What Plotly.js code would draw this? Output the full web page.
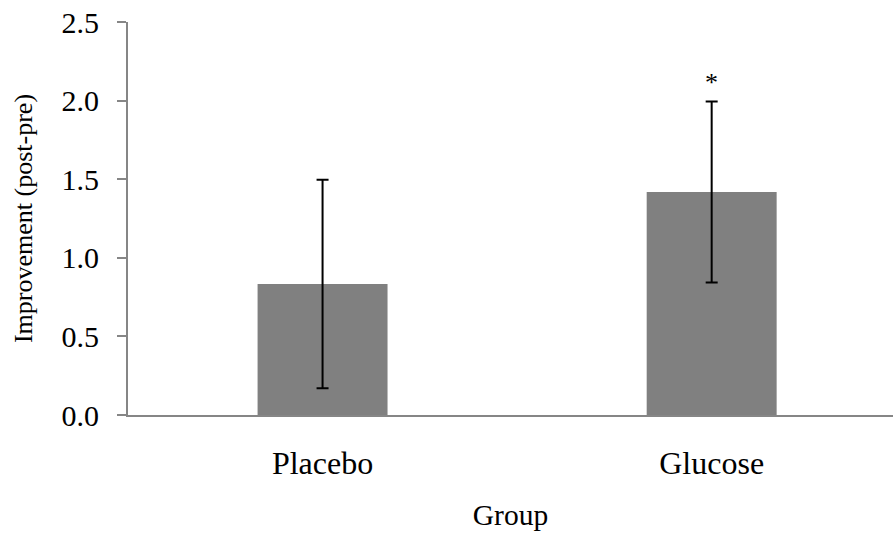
<!DOCTYPE html>
<html>
<head>
<meta charset="utf-8">
<script src="https://cdn.plot.ly/plotly-3.0.1.min.js"></script>
<style>
html,body{margin:0;padding:0;background:#fff;}
#chart{width:893px;height:538px;}
</style>
</head>
<body>
<div id="chart"></div>
<script>
const groups = ["Placebo", "Glucose"];
const improvement = [0.833, 1.419];
const errorSD = [0.663, 0.576];
const significance = ["", "*"];
const yTicks = [0, 0.5, 1.0, 1.5, 2.0, 2.5];
const yTickLabels = ["0.0", "0.5", "1.0", "1.5", "2.0", "2.5"];

const FONT = "Liberation Serif, Times New Roman, serif";

const trace = {
  type: "bar",
  x: groups,
  y: improvement,
  width: 0.334,
  marker: {color: "#808080", line: {width: 0}},
  error_y: {type: "data", array: errorSD, visible: true, color: "#000000", thickness: 2, width: 6},
  hoverinfo: "skip"
};

const annotations = groups.map((g, i) => ({
  x: g, y: improvement[i] + errorSD[i], xref: "x", yref: "y",
  text: significance[i], showarrow: false, yanchor: "bottom", yshift: 2,
  font: {family: FONT, size: 26, color: "#000"}
})).filter(a => a.text !== "");

const layout = {
  width: 893, height: 538,
  margin: {l: 128, r: 0, t: 22, b: 123},
  paper_bgcolor: "#fff", plot_bgcolor: "#fff",
  showlegend: false,
  font: {family: FONT, color: "#000"},
  xaxis: {
    type: "category",
    range: [-0.5, 1.466],
    showline: true, linecolor: "#868686", linewidth: 2,
    ticks: "", showgrid: false, zeroline: false,
    tickfont: {family: FONT, size: 32, color: "#000"},
    ticklabelstandoff: 19,
    title: {text: "Group", font: {family: FONT, size: 29.5, color: "#000"}, standoff: 24}
  },
  yaxis: {
    range: [0, 2.5],
    tickvals: yTicks, ticktext: yTickLabels,
    showline: true, linecolor: "#868686", linewidth: 2,
    ticks: "outside", ticklen: 9, tickwidth: 2, tickcolor: "#868686",
    showgrid: false, zeroline: false,
    tickfont: {family: FONT, size: 30, color: "#000"},
    ticklabelstandoff: 12,
    title: {text: "Improvement (post-pre)", font: {family: FONT, size: 26, color: "#000"}, standoff: 21}
  },
  annotations: annotations
};

Plotly.newPlot("chart", [trace], layout, {displayModeBar: false, staticPlot: true});
</script>
</body>
</html>
